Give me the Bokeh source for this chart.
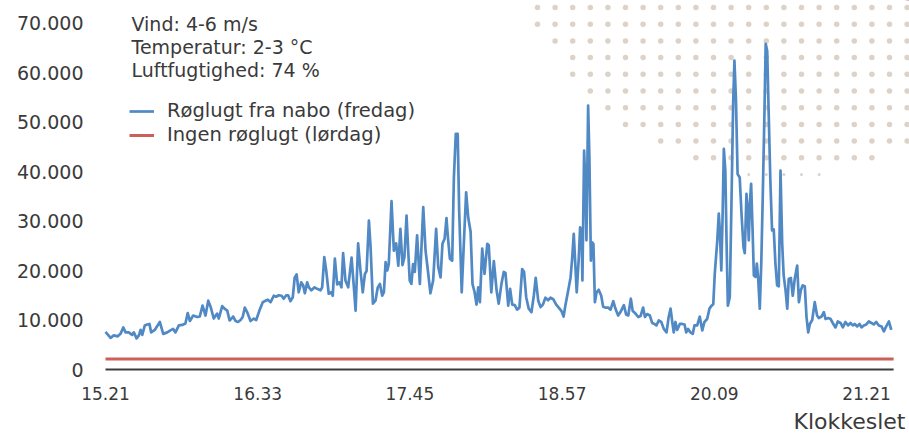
from bokeh.plotting import figure
from bokeh.models import Range1d, Legend, LegendItem, Label
from bokeh.core.properties import value
from bokeh.embed import file_html
from bokeh.resources import INLINE

# ---------------- data ----------------
# minutes after 15:21
friday_minutes = [
    0, 2.4, 3.9, 5.8, 7.1, 8.4, 9.5, 11.0, 12.6, 13.4,
    14.7, 15.8, 16.6, 17.4, 18.6, 19.7, 20.8, 21.6, 23.3, 25.7,
    27.3, 29.2, 30.7, 32.0, 33.1, 34.7, 36.3, 37.8, 38.9, 39.9,
    41.5, 43.4, 44.6, 45.9, 47.3, 48.6, 49.7, 51.2, 52.8, 53.6,
    55.2, 56.3, 57.6, 58.7, 60.4, 61.5, 62.7, 63.9, 64.9, 65.9,
    67.0, 68.6, 70.2, 71.3, 72.8, 74.4, 75.7, 76.8, 78.1, 79.6,
    80.7, 82.0, 83.3, 84.3, 85.5, 86.4, 87.5, 88.6, 89.5, 90.4,
    91.4, 92.6, 93.5, 94.3, 95.4, 96.2, 97.4, 98.9, 100.1, 101.7,
    102.5, 103.5, 104.4, 105.6, 106.8, 107.5, 108.5, 109.6, 110.7, 111.6,
    112.4, 113.5, 114.8, 116.4, 117.5, 118.3, 119.5, 120.6, 121.7, 122.7,
    123.5, 124.6, 125.4, 126.5, 127.7, 128.8, 129.8, 130.9, 131.7, 132.5,
    133.3, 134.0, 135.3, 136.4, 137.5, 138.5, 139.5, 140.5, 141.4, 142.4,
    143.2, 143.9, 144.7, 145.5, 146.3, 147.4, 148.7, 150.3, 151.4, 152.5,
    153.7, 155.0, 156.4, 157.4, 158.5, 159.4, 160.4, 161.3, 161.9, 162.9,
    164.0, 164.8, 165.7, 166.6, 167.3, 168.5, 169.5, 170.6, 171.6, 172.7,
    173.6, 174.6, 175.5, 176.3, 177.1, 178.2, 179.3, 180.6, 181.3, 182.5,
    183.7, 185.0, 186.0, 187.3, 188.4, 189.2, 190.5, 191.4, 192.4, 193.6,
    194.7, 195.8, 197.1, 198.0, 199.0, 200.2, 201.5, 202.6, 203.5, 204.7,
    205.8, 206.9, 208.1, 209.4, 210.5, 211.8, 213.2, 214.4, 215.7, 216.7,
    217.6, 218.9, 220.0, 220.8, 221.5, 222.3, 222.9, 223.9, 224.5, 225.2,
    225.6, 226.4, 227.1, 227.5, 228.3, 228.9, 229.6, 230.2, 230.8, 231.5,
    232.3, 233.3, 234.5, 235.4, 236.5, 237.8, 238.9, 240.2, 241.2, 242.5,
    243.6, 245.2, 246.3, 247.3, 248.5, 249.4, 250.7, 252.0, 253.1, 254.3,
    255.2, 256.2, 257.5, 258.6, 259.7, 260.6, 261.7, 262.9, 264.1, 265.4,
    266.4, 267.3, 268.1, 268.8, 269.6, 270.4, 271.7, 272.8, 273.9, 274.7,
    275.6, 276.7, 277.8, 278.6, 279.9, 281.1, 282.3, 283.3, 284.6, 285.7,
    286.7, 287.5, 288.2, 289.4, 290.1, 290.6, 291.3, 291.9, 292.5, 293.2,
    293.8, 294.4, 295.3, 296.1, 296.9, 297.5, 298.2, 299.0, 300.0, 300.9,
    301.8, 302.4, 303.2, 303.8, 304.3, 304.8, 305.4, 306.1, 306.7, 307.5,
    308.1, 308.7, 309.5, 310.2, 310.9, 311.7, 312.3, 313.0, 313.7, 314.5,
    315.3, 316.1, 316.9, 317.7, 318.5, 319.3, 320.1, 320.8, 321.7, 322.5,
    323.2, 324.2, 325.1, 326.1, 327.2, 328.0, 328.9, 329.8, 330.8, 331.6,
    332.4, 333.2, 334.3, 335.5, 336.6, 337.4, 338.7, 339.8, 340.6, 341.9,
    343.0, 344.0, 345.3, 346.4, 347.7, 348.8, 350.0, 351.3, 352.4, 353.5,
    354.4, 355.6, 356.7, 357.6, 358.7, 359.9, 361.1, 362.3, 363.4, 364.6,
    365.8, 367.1, 368.2, 369.3, 370.6, 371.7,
]
# smoke level (thousands), Friday
friday_k = [
    7.6, 6.4, 6.9, 6.7, 7.2, 8.5, 7.5, 7.5, 7.0, 7.5,
    6.3, 6.9, 8.0, 7.0, 8.9, 9.1, 9.2, 7.5, 8.0, 9.6,
    7.2, 7.5, 7.9, 8.2, 7.5, 8.9, 9.0, 9.3, 11.4, 9.8,
    10.9, 10.6, 10.7, 12.9, 10.9, 13.9, 12.7, 10.3, 11.3, 10.3,
    12.8, 12.3, 11.9, 9.9, 10.7, 9.8, 9.6, 10.0, 10.6, 12.5,
    11.6, 9.8, 10.3, 10.0, 11.9, 13.6, 13.9, 14.1, 13.6, 14.9,
    14.7, 15.0, 14.9, 14.3, 15.0, 15.0, 13.8, 14.6, 18.6, 19.2,
    15.6, 17.6, 17.0, 15.4, 17.6, 16.6, 16.0, 16.6, 16.3, 16.0,
    16.6, 22.7, 20.0, 15.3, 15.6, 14.9, 22.4, 17.2, 17.6, 16.6,
    23.5, 18.0, 16.6, 22.6, 16.6, 11.9, 25.5, 20.0, 15.6, 19.3,
    19.9, 30.1, 24.7, 13.3, 13.9, 16.6, 17.3, 14.9, 15.6, 21.7,
    20.0, 21.3, 34.0, 24.0, 25.5, 21.0, 28.4, 21.1, 22.7, 31.1,
    24.0, 18.0, 17.3, 21.3, 19.7, 27.1, 17.3, 32.8, 24.0, 20.0,
    15.4, 18.0, 28.4, 20.7, 18.6, 25.4, 26.4, 30.6, 27.1, 22.4,
    22.0, 38.8, 47.6, 47.6, 32.1, 15.6, 25.4, 35.8, 30.6, 27.9,
    17.3, 15.6, 13.1, 16.6, 13.6, 24.4, 19.3, 25.4, 25.1, 15.6,
    21.9, 16.0, 13.3, 17.3, 19.7, 19.5, 12.9, 16.3, 13.1, 13.0,
    12.1, 12.5, 20.3, 19.7, 14.6, 12.3, 11.6, 14.9, 18.5, 13.9,
    12.6, 13.1, 14.5, 14.0, 14.5, 14.2, 13.1, 12.5, 11.8, 10.7,
    13.1, 16.0, 18.6, 22.7, 27.4, 20.7, 15.6, 22.7, 28.7, 28.1,
    18.0, 44.2, 36.2, 26.1, 53.3, 42.9, 22.0, 25.7, 25.4, 13.6,
    15.6, 16.1, 14.9, 12.7, 12.5, 12.5, 12.1, 13.8, 12.3, 10.9,
    11.6, 13.0, 11.1, 10.9, 14.3, 11.8, 11.3, 10.6, 10.8, 12.5,
    10.6, 11.2, 10.9, 9.4, 9.2, 8.9, 9.9, 9.6, 8.2, 7.5,
    10.6, 12.3, 9.6, 7.5, 9.6, 8.0, 9.2, 9.2, 9.1, 7.5,
    8.2, 7.5, 7.2, 8.9, 8.9, 10.7, 7.9, 9.6, 10.2, 12.3,
    12.9, 13.2, 19.3, 26.1, 31.5, 28.1, 20.0, 30.8, 44.6, 40.2,
    25.4, 12.9, 14.6, 33.5, 53.7, 62.4, 55.0, 39.5, 38.8, 31.1,
    24.7, 23.5, 35.5, 31.5, 26.1, 33.5, 37.5, 28.1, 19.0, 18.7,
    21.4, 18.7, 12.3, 21.4, 34.8, 51.7, 65.8, 64.4, 52.0, 38.2,
    28.1, 28.3, 21.4, 17.0, 16.8, 40.2, 25.4, 19.0, 16.0, 12.3,
    18.3, 18.5, 14.9, 18.5, 21.0, 13.6, 16.0, 17.0, 16.8, 10.6,
    7.5, 9.2, 10.0, 13.6, 10.9, 10.4, 10.7, 11.6, 10.2, 10.4,
    10.2, 9.4, 8.5, 9.7, 9.4, 8.5, 9.6, 8.9, 9.4, 8.9,
    9.2, 8.7, 9.2, 8.5, 8.9, 9.1, 9.7, 9.4, 9.1, 9.6,
    8.9, 8.7, 7.7, 8.7, 9.7, 8.0,
]
# Saturday (no smoke)
saturday_minutes = [0, 372.8]
saturday_k = [2.1, 2.1]

x_tick_minutes = [0, 72, 144, 216, 288, 360]
x_tick_labels = ["15.21", "16.33", "17.45", "18.57", "20.09", "21.21"]
y_ticks = [0, 10000, 20000, 30000, 40000, 50000, 60000, 70000]
y_tick_labels = ["0", "10.000", "20.000", "30.000", "40.000", "50.000", "60.000", "70.000"]

info_lines = ["Vind: 4-6 m/s", "Temperatur: 2-3 °C", "Luftfugtighed: 74 %"]
series_names = ["Røglugt fra nabo (fredag)", "Ingen røglugt (lørdag)"]
x_title = "Klokkeslet"

# ---------------- layout helpers (pixel -> data) ----------------
W, H = 909, 435
X0_PX = 105          # pixel of 15.21
ZERO_PX = 369        # pixel of value 0
PX_PER_MIN = 2.114
PX_PER_UNIT = 49.5 / 10000.0


def dx(px):
    return (px - X0_PX) / PX_PER_MIN


def dy(py):
    return (ZERO_PX - py) / PX_PER_UNIT


FONT = "DejaVu Sans"
TXT = "#3a3a3a"
BLUE = "#5189c4"
RED = "#cc5f57"
DOT = "#ddd2c8"

p = figure(width=W, height=H, output_backend="svg", toolbar_location=None,
           x_axis_location=None, y_axis_location=None,
           x_range=Range1d(dx(0), dx(W)),
           y_range=Range1d(dy(H), dy(0)),
           min_border_left=0, min_border_right=0,
           min_border_top=0, min_border_bottom=0)
p.styles = {"position": "absolute", "top": "0px", "left": "0px"}
p.outline_line_color = None
p.grid.visible = False
p.background_fill_color = "white"
p.border_fill_color = "white"

# decorative dot pattern (top right)
DOT_X0, DOT_Y0, DOT_DX, DOT_DY = 537, 7, 17.6, 16.7
dot_rows = [(0, 21), (0, 21), (1, 21), (2, 21), (2, 21), (3, 21), (4, 21), (5, 21), (7, 21), (9, 19)]
dxs, dys = [], []
for j, (k0, k1) in enumerate(dot_rows):
    for k in range(k0, k1 + 1):
        dxs.append(dx(DOT_X0 + k * DOT_DX))
        dys.append(dy(DOT_Y0 + j * DOT_DY))
p.scatter(dxs, dys, size=5.5, color=DOT, line_color=None)
pxs = [dx(DOT_X0 + k * DOT_DX) for k in range(12, 17)]
p.scatter(pxs, [dy(DOT_Y0 + 10 * DOT_DY)] * len(pxs), size=3, color=DOT, line_color=None)

# red corner shape
p.scatter([dx(932)], [dy(-155)], size=314, color="#c4283a", line_color=None)

# series
friday = [v * 1000 for v in friday_k]
saturday = [v * 1000 for v in saturday_k]
r_blue = p.line(friday_minutes, friday, line_color=BLUE, line_width=2.7, line_join="round")
r_red = p.line(saturday_minutes, saturday, line_color=RED, line_width=3)

# baseline (x axis line)
p.segment(x0=[saturday_minutes[0]], y0=[0], x1=[saturday_minutes[-1]], y1=[0],
          line_color="#3c3c3c", line_width=2)

# x tick labels (time of day), placed through the x scale
p.text(x=x_tick_minutes, y=[dy(393)] * len(x_tick_minutes), text=x_tick_labels,
       text_align="center", text_baseline="middle", text_font=value(FONT),
       text_font_size="17px", text_color=TXT)

# y tick labels, placed through the y scale
p.text(x=[dx(83)] * len(y_ticks), y=y_ticks, text=y_tick_labels,
       text_align="right", text_baseline="middle", text_font=value(FONT),
       text_font_size="19px", text_color=TXT)

# info text
for i, t in enumerate(info_lines):
    p.add_layout(Label(x=dx(131), y=dy(23 + 23 * i), text=t, text_font=FONT,
                       text_font_size="19px", text_color=TXT, text_baseline="middle"))

# x title
p.add_layout(Label(x=dx(905), y=dy(421), text=x_title, text_font=FONT,
                   text_font_size="22px", text_color=TXT, text_align="right",
                   text_baseline="middle"))

legend = Legend(items=[LegendItem(label=series_names[0], renderers=[r_blue]),
                       LegendItem(label=series_names[1], renderers=[r_red])],
                location=(129, H - 146), padding=5, spacing=1,
                glyph_width=25, glyph_height=22, label_height=22, label_standoff=13,
                label_text_font=FONT, label_text_font_size="19.5px", label_text_color=TXT,
                border_line_color=None, background_fill_alpha=0)
p.add_layout(legend)

open("out.html", "w").write(file_html(p, INLINE))
